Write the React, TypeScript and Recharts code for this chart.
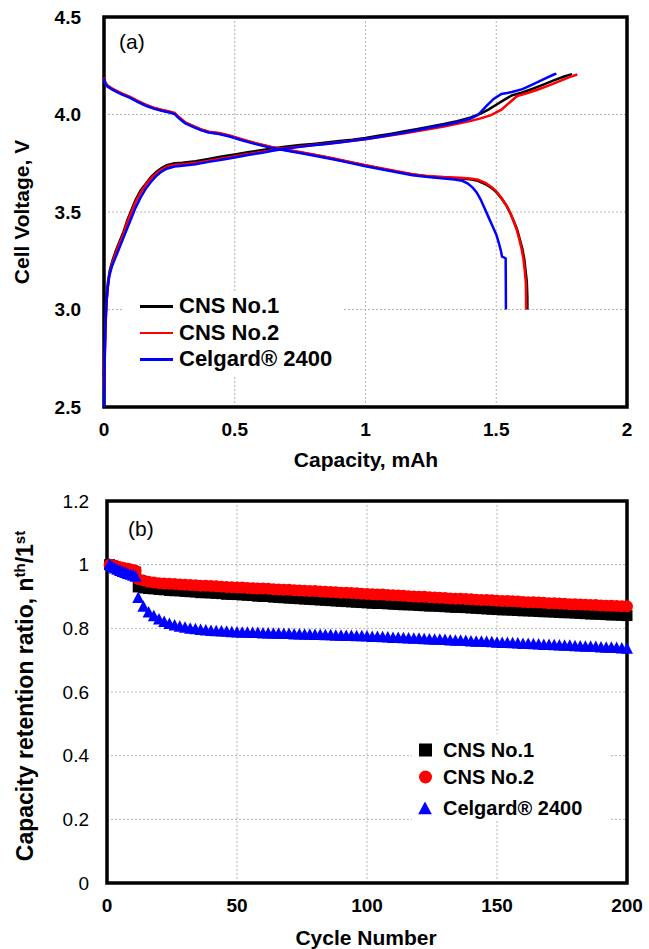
import React from 'react';
import { LineChart, Line, ScatterChart, Scatter, XAxis, YAxis, CartesianGrid, ReferenceArea } from 'recharts';

const FONT = '"Liberation Sans", Arial, Helvetica, sans-serif';

// panel (a) axes
const capacityTicks = [0, 0.5, 1, 1.5, 2];
const voltageTicks = [2.5, 3.0, 3.5, 4.0, 4.5];

// panel (b) axes
const cycleTicks = [0, 50, 100, 150, 200];
const ratioTicks = [0, 0.2, 0.4, 0.6, 0.8, 1, 1.2];

// charge curves [capacity mAh, voltage V]
const cns1Charge = [
  [0, 2.66], [0.003, 2.8], [0.006, 2.95], [0.01, 3.06], [0.015, 3.14], [0.022, 3.2], [0.032, 3.25], [0.045, 3.3],
  [0.06, 3.35], [0.075, 3.4], [0.09, 3.46], [0.105, 3.51], [0.12, 3.56], [0.14, 3.61], [0.16, 3.645], [0.18, 3.68],
  [0.2, 3.705], [0.22, 3.725], [0.24, 3.74], [0.27, 3.75], [0.3, 3.753], [0.35, 3.76], [0.4, 3.772], [0.45, 3.785],
  [0.5, 3.795], [0.55, 3.806], [0.6, 3.817], [0.65, 3.827], [0.7, 3.836], [0.75, 3.843], [0.8, 3.849], [0.85, 3.856],
  [0.9, 3.864], [0.95, 3.871], [1.0, 3.88], [1.05, 3.891], [1.1, 3.902], [1.15, 3.914], [1.2, 3.926], [1.25, 3.938],
  [1.3, 3.951], [1.35, 3.966], [1.4, 3.984], [1.44, 4.004], [1.47, 4.025], [1.5, 4.05], [1.53, 4.075], [1.56, 4.098],
  [1.6, 4.113], [1.64, 4.132], [1.68, 4.153], [1.72, 4.175], [1.76, 4.195], [1.79, 4.207],
];
const cns2Charge = [
  [0, 2.6], [0.003, 2.75], [0.006, 2.92], [0.01, 3.04], [0.015, 3.12], [0.022, 3.19], [0.032, 3.24], [0.045, 3.29],
  [0.06, 3.34], [0.075, 3.39], [0.09, 3.45], [0.105, 3.5], [0.12, 3.55], [0.14, 3.6], [0.16, 3.64], [0.18, 3.672],
  [0.2, 3.698], [0.22, 3.718], [0.24, 3.732], [0.27, 3.742], [0.3, 3.745], [0.35, 3.752], [0.4, 3.763], [0.45, 3.775],
  [0.5, 3.786], [0.55, 3.797], [0.6, 3.808], [0.65, 3.818], [0.7, 3.828], [0.75, 3.836], [0.8, 3.843], [0.85, 3.85],
  [0.9, 3.858], [0.95, 3.865], [1.0, 3.873], [1.05, 3.883], [1.1, 3.893], [1.15, 3.904], [1.2, 3.915], [1.25, 3.927],
  [1.3, 3.939], [1.35, 3.952], [1.4, 3.966], [1.44, 3.98], [1.48, 3.997], [1.52, 4.025], [1.55, 4.06], [1.58, 4.095],
  [1.62, 4.11], [1.66, 4.128], [1.7, 4.148], [1.74, 4.17], [1.78, 4.192], [1.81, 4.205],
];
const celgardCharge = [
  [0, 2.5], [0.002, 2.7], [0.005, 2.9], [0.009, 3.03], [0.014, 3.11], [0.02, 3.17], [0.03, 3.22], [0.045, 3.27],
  [0.06, 3.32], [0.075, 3.37], [0.09, 3.42], [0.105, 3.47], [0.12, 3.52], [0.14, 3.575], [0.16, 3.62], [0.18, 3.655],
  [0.2, 3.685], [0.22, 3.707], [0.24, 3.722], [0.27, 3.733], [0.3, 3.737], [0.35, 3.745], [0.4, 3.757], [0.45, 3.768],
  [0.5, 3.78], [0.55, 3.792], [0.6, 3.803], [0.65, 3.815], [0.7, 3.826], [0.75, 3.834], [0.8, 3.842], [0.85, 3.849],
  [0.9, 3.857], [0.95, 3.865], [1.0, 3.874], [1.05, 3.885], [1.1, 3.896], [1.15, 3.908], [1.2, 3.92], [1.25, 3.933],
  [1.3, 3.946], [1.35, 3.96], [1.4, 3.978], [1.43, 3.997], [1.46, 4.04], [1.49, 4.08], [1.52, 4.105], [1.56, 4.115],
  [1.6, 4.13], [1.64, 4.155], [1.68, 4.18], [1.72, 4.205], [1.73, 4.21],
];

// discharge curves
const cns1Discharge = [
  [0, 4.19], [0.004, 4.165], [0.012, 4.148], [0.03, 4.132], [0.05, 4.118], [0.07, 4.105], [0.1, 4.088], [0.13, 4.067],
  [0.16, 4.048], [0.19, 4.033], [0.22, 4.022], [0.25, 4.013], [0.27, 4.005], [0.29, 3.98], [0.31, 3.958], [0.34, 3.94],
  [0.37, 3.922], [0.4, 3.91], [0.44, 3.903], [0.48, 3.89], [0.53, 3.87], [0.58, 3.851], [0.64, 3.832], [0.7, 3.817],
  [0.76, 3.803], [0.82, 3.788], [0.88, 3.772], [0.94, 3.755], [1.0, 3.738], [1.06, 3.722], [1.12, 3.707], [1.18, 3.692],
  [1.24, 3.682], [1.3, 3.676], [1.36, 3.672], [1.4, 3.668], [1.43, 3.66], [1.46, 3.642], [1.48, 3.625], [1.5, 3.603],
  [1.52, 3.57], [1.54, 3.53], [1.555, 3.49], [1.568, 3.45], [1.58, 3.41], [1.59, 3.36], [1.6, 3.31], [1.607, 3.26],
  [1.612, 3.2], [1.617, 3.14], [1.619, 3.06], [1.619, 3.0],
];
const cns2Discharge = [
  [0, 4.19], [0.004, 4.168], [0.012, 4.15], [0.03, 4.134], [0.05, 4.12], [0.07, 4.107], [0.1, 4.09], [0.13, 4.069],
  [0.16, 4.05], [0.19, 4.035], [0.22, 4.024], [0.25, 4.015], [0.27, 4.008], [0.29, 3.983], [0.31, 3.96], [0.34, 3.942],
  [0.37, 3.925], [0.4, 3.912], [0.44, 3.905], [0.48, 3.892], [0.53, 3.872], [0.58, 3.853], [0.64, 3.834], [0.7, 3.819],
  [0.76, 3.805], [0.82, 3.79], [0.88, 3.774], [0.94, 3.757], [1.0, 3.74], [1.06, 3.724], [1.12, 3.709], [1.18, 3.694],
  [1.24, 3.684], [1.3, 3.679], [1.36, 3.676], [1.4, 3.672], [1.43, 3.665], [1.46, 3.648], [1.48, 3.63], [1.5, 3.606],
  [1.52, 3.572], [1.54, 3.532], [1.555, 3.492], [1.567, 3.45], [1.578, 3.41], [1.588, 3.36], [1.597, 3.31], [1.604, 3.26],
  [1.609, 3.2], [1.613, 3.14], [1.614, 3.06], [1.614, 3.0],
];
const celgardDischarge = [
  [0, 4.185], [0.004, 4.16], [0.012, 4.145], [0.03, 4.129], [0.05, 4.115], [0.07, 4.102], [0.1, 4.085], [0.13, 4.064],
  [0.16, 4.045], [0.19, 4.03], [0.22, 4.019], [0.25, 4.01], [0.27, 4.002], [0.29, 3.977], [0.31, 3.955], [0.34, 3.937],
  [0.37, 3.92], [0.4, 3.908], [0.44, 3.9], [0.48, 3.887], [0.53, 3.867], [0.58, 3.848], [0.64, 3.829], [0.7, 3.814],
  [0.76, 3.8], [0.82, 3.785], [0.88, 3.769], [0.94, 3.752], [1.0, 3.735], [1.06, 3.719], [1.12, 3.704], [1.18, 3.689],
  [1.24, 3.679], [1.3, 3.672], [1.34, 3.667], [1.37, 3.66], [1.39, 3.647], [1.41, 3.625], [1.425, 3.6], [1.44, 3.565],
  [1.455, 3.52], [1.47, 3.475], [1.485, 3.43], [1.5, 3.385], [1.51, 3.34], [1.518, 3.3], [1.522, 3.272], [1.536, 3.262],
  [1.537, 3.0],
];

// panel (b): cycle numbers and retention ratio n-th / 1st
const cycles = [
  1, 2, 3, 4, 5, 6, 7, 8, 9, 10, 11, 12,
  14, 16, 18, 20, 22, 24, 26, 28, 30, 32, 34, 36, 38, 40, 42, 44, 46, 48, 50,
  52, 54, 56, 58, 60, 62, 64, 66, 68, 70, 72, 74, 76, 78, 80, 82, 84, 86, 88, 90, 92, 94, 96, 98, 100,
  102, 104, 106, 108, 110, 112, 114, 116, 118, 120, 122, 124, 126, 128, 130, 132, 134, 136, 138, 140, 142, 144, 146, 148, 150,
  152, 154, 156, 158, 160, 162, 164, 166, 168, 170, 172, 174, 176, 178, 180, 182, 184, 186, 188, 190, 192, 194, 196, 198, 200,
];
const cns1Retention = [
  1.0, 0.997, 0.993, 0.99, 0.988, 0.986, 0.984, 0.982, 0.98, 0.978, 0.976, 0.93,
  0.927, 0.925, 0.924, 0.922, 0.921, 0.919, 0.918, 0.918, 0.916, 0.915, 0.914, 0.912, 0.912, 0.911, 0.91, 0.909, 0.907, 0.907, 0.906,
  0.905, 0.904, 0.903, 0.901, 0.9, 0.9, 0.898, 0.897, 0.896, 0.895, 0.894, 0.893, 0.892, 0.891, 0.89, 0.889, 0.888, 0.887, 0.886, 0.885, 0.884, 0.883, 0.882, 0.881, 0.88,
  0.879, 0.878, 0.878, 0.877, 0.876, 0.875, 0.874, 0.874, 0.873, 0.872, 0.871, 0.87, 0.87, 0.869, 0.868, 0.867, 0.866, 0.866, 0.865, 0.864, 0.863, 0.862, 0.861, 0.86, 0.859,
  0.858, 0.858, 0.857, 0.856, 0.855, 0.855, 0.854, 0.853, 0.852, 0.852, 0.851, 0.85, 0.849, 0.849, 0.848, 0.847, 0.846, 0.845, 0.845, 0.844, 0.843, 0.842, 0.842, 0.841, 0.84,
];
const cns2Retention = [
  1.0, 0.998, 0.996, 0.994, 0.992, 0.99, 0.988, 0.987, 0.985, 0.983, 0.981, 0.955,
  0.95, 0.946, 0.944, 0.942, 0.941, 0.94, 0.939, 0.938, 0.937, 0.936, 0.935, 0.934, 0.934, 0.933, 0.932, 0.931, 0.93, 0.929, 0.928,
  0.928, 0.927, 0.926, 0.925, 0.925, 0.924, 0.923, 0.922, 0.921, 0.921, 0.92, 0.919, 0.918, 0.917, 0.917, 0.916, 0.915, 0.914, 0.913, 0.912, 0.912, 0.911, 0.91, 0.909, 0.908,
  0.907, 0.906, 0.906, 0.905, 0.904, 0.903, 0.902, 0.901, 0.9, 0.899, 0.899, 0.898, 0.897, 0.896, 0.895, 0.894, 0.893, 0.893, 0.892, 0.891, 0.89, 0.889, 0.889, 0.888, 0.887,
  0.886, 0.886, 0.885, 0.884, 0.883, 0.882, 0.882, 0.881, 0.88, 0.879, 0.879, 0.878, 0.877, 0.876, 0.876, 0.875, 0.874, 0.873, 0.873, 0.872, 0.871, 0.871, 0.87, 0.869, 0.869,
];
const celgardRetention = [
  1.0, 0.993, 0.988, 0.984, 0.98, 0.977, 0.974, 0.971, 0.968, 0.965, 0.962, 0.895,
  0.868, 0.85, 0.838, 0.828, 0.82, 0.814, 0.809, 0.805, 0.802, 0.799, 0.797, 0.795, 0.793, 0.792, 0.791, 0.79, 0.789, 0.788, 0.787,
  0.786, 0.786, 0.785, 0.785, 0.784, 0.784, 0.783, 0.783, 0.782, 0.782, 0.781, 0.781, 0.78, 0.78, 0.779, 0.779, 0.778, 0.778, 0.777, 0.777, 0.776, 0.776, 0.775, 0.775, 0.774,
  0.773, 0.773, 0.772, 0.771, 0.77, 0.77, 0.769, 0.768, 0.767, 0.767, 0.766, 0.765, 0.764, 0.764, 0.763, 0.762, 0.761, 0.761, 0.76, 0.759, 0.758, 0.758, 0.757, 0.756, 0.755,
  0.754, 0.754, 0.753, 0.752, 0.751, 0.751, 0.75, 0.749, 0.748, 0.748, 0.747, 0.746, 0.745, 0.745, 0.744, 0.743, 0.742, 0.742, 0.741, 0.74, 0.739, 0.739, 0.738, 0.737, 0.736,
];

const toPoints = (pairs: number[][]) => pairs.map(([x, y]) => ({ x, y }));
const toCyclePoints = (vals: number[]) => cycles.map((c, i) => ({ x: c, y: vals[i] }));

const tickStyle = { fontSize: 19, fontWeight: 'bold', fill: '#000', fontFamily: FONT };
const gridStroke = '#b5b5b5';

const Square = (props: any) => <rect x={props.cx - 5.5} y={props.cy - 5.5} width={11} height={11} fill="#000" />;
const Dot = (props: any) => <circle cx={props.cx} cy={props.cy} r={6} fill="#ff0000" />;
const Tri = (props: any) => (
  <polygon points={`${props.cx},${props.cy - 6.5} ${props.cx - 6},${props.cy + 5} ${props.cx + 6},${props.cy + 5}`} fill="#0000ff" />
);

const lineSeries = [
  { name: 'CNS No.1', color: '#000000' },
  { name: 'CNS No.2', color: '#ff0000' },
  { name: 'Celgard® 2400', color: '#0000ff' },
];

const abs = (s: React.CSSProperties): React.CSSProperties => ({ position: 'absolute', fontFamily: FONT, color: '#000', ...s });

export default function App() {
  return (
    <div style={{ position: 'relative', width: 649, height: 949, background: '#fff', fontFamily: FONT }}>
      <style>{'body{margin:0;background:#fff}'}</style>

      <div style={{ position: 'absolute', left: 0, top: 0 }}>
        <LineChart width={649} height={480} margin={{ top: 17, right: 22, bottom: 33, left: 44 }}>
          <CartesianGrid stroke={gridStroke} strokeDasharray="2 2" />
          <XAxis
            type="number"
            dataKey="x"
            domain={[0, 2]}
            ticks={capacityTicks}
            height={40}
            axisLine={false}
            tickLine={false}
            tickSize={0}
            tickMargin={16}
            tick={tickStyle}
          />
          <YAxis
            type="number"
            dataKey="y"
            domain={[2.5, 4.5]}
            ticks={voltageTicks}
            width={60}
            axisLine={false}
            tickLine={false}
            tickSize={0}
            tickMargin={23}
            tick={tickStyle}
            tickFormatter={(v: number) => v.toFixed(1)}
          />
          <Line data={toPoints(cns1Charge)} dataKey="y" stroke="#000" strokeWidth={2.5} dot={false} isAnimationActive={false} />
          <Line data={toPoints(cns1Discharge)} dataKey="y" stroke="#000" strokeWidth={2.5} dot={false} isAnimationActive={false} />
          <Line data={toPoints(cns2Charge)} dataKey="y" stroke="#ff0000" strokeWidth={2.5} dot={false} isAnimationActive={false} />
          <Line data={toPoints(cns2Discharge)} dataKey="y" stroke="#ff0000" strokeWidth={2.5} dot={false} isAnimationActive={false} />
          <Line data={toPoints(celgardCharge)} dataKey="y" stroke="#0000ff" strokeWidth={2.5} dot={false} isAnimationActive={false} />
          <Line data={toPoints(celgardDischarge)} dataKey="y" stroke="#0000ff" strokeWidth={2.5} dot={false} isAnimationActive={false} />
          <ReferenceArea x1={0} x2={2} y1={2.5} y2={4.5} fill="none" stroke="#000" strokeWidth={3.5} />
        </LineChart>
      </div>

      <div style={{ position: 'absolute', left: 0, top: 480 }}>
        <ScatterChart width={649} height={469} margin={{ top: 21, right: 22, bottom: 26, left: 47 }}>
          <CartesianGrid stroke={gridStroke} strokeDasharray="2 2" />
          <XAxis
            type="number"
            dataKey="x"
            domain={[0, 200]}
            ticks={cycleTicks}
            height={40}
            axisLine={false}
            tickLine={false}
            tickSize={0}
            tickMargin={16}
            tick={tickStyle}
          />
          <YAxis
            type="number"
            dataKey="y"
            domain={[0, 1.2]}
            ticks={ratioTicks}
            width={60}
            axisLine={false}
            tickLine={false}
            tickSize={0}
            tickMargin={18}
            tick={{ ...tickStyle, fontWeight: 'normal' }}
          />
          <Scatter data={toCyclePoints(cns1Retention)} shape={Square} isAnimationActive={false} />
          <Scatter data={toCyclePoints(cns2Retention)} shape={Dot} isAnimationActive={false} />
          <Scatter data={toCyclePoints(celgardRetention)} shape={Tri} isAnimationActive={false} />
          <ReferenceArea x1={0} x2={200} y1={0} y2={1.2} fill="none" stroke="#000" strokeWidth={3.5} />
        </ScatterChart>
      </div>

      {/* axis titles */}
      <div style={abs({ left: 366, top: 460, transform: 'translate(-50%,-50%)', fontSize: 21, fontWeight: 'bold', whiteSpace: 'nowrap' })}>
        Capacity, mAh
      </div>
      <div style={abs({ left: 366, top: 938, transform: 'translate(-50%,-50%)', fontSize: 21, fontWeight: 'bold', whiteSpace: 'nowrap' })}>
        Cycle Number
      </div>
      <div style={abs({ left: 22, top: 212, transform: 'translate(-50%,-50%) rotate(-90deg)', fontSize: 21, fontWeight: 'bold', whiteSpace: 'nowrap' })}>
        Cell Voltage, V
      </div>
      <div style={abs({ left: 25, top: 696, transform: 'translate(-50%,-50%) rotate(-90deg)', fontSize: 23, fontWeight: 'bold', whiteSpace: 'nowrap' })}>
        Capacity retention ratio, n<sup style={{ fontSize: 15 }}>th</sup>/1<sup style={{ fontSize: 15 }}>st</sup>
      </div>

      {/* panel labels */}
      <div style={abs({ left: 119, top: 30, fontSize: 21 })}>(a)</div>
      <div style={abs({ left: 128, top: 517, fontSize: 21 })}>(b)</div>

      {/* legend (a) */}
      <div style={abs({ left: 124, top: 293, width: 220, background: '#fff', padding: '0 0 2px 0' })}>
        {lineSeries.map((s) => (
          <div key={s.name} style={{ display: 'flex', alignItems: 'center', height: 26.5 }}>
            <div style={{ width: 33, height: 2.5, background: s.color, marginLeft: 16, marginRight: 6 }} />
            <span style={{ fontSize: 22, fontWeight: 'bold' }}>{s.name}</span>
          </div>
        ))}
      </div>

      {/* legend (b) */}
      <div style={abs({ left: 412, top: 734, width: 198, height: 86, background: '#fff' })}>
        {[
          { name: 'CNS No.1', top: 16, marker: <div style={{ width: 13, height: 13, background: '#000' }} /> },
          { name: 'CNS No.2', top: 43, marker: <div style={{ width: 13, height: 13, borderRadius: '50%', background: '#ff0000' }} /> },
          {
            name: 'Celgard® 2400',
            top: 74,
            marker: (
              <svg width={14} height={13}>
                <polygon points="7,0 0,13 14,13" fill="#0000ff" />
              </svg>
            ),
          },
        ].map((r) => (
          <div key={r.name} style={{ position: 'absolute', left: 6, top: r.top, transform: 'translateY(-50%)', display: 'flex', alignItems: 'center' }}>
            <div style={{ width: 14, display: 'flex', justifyContent: 'center' }}>{r.marker}</div>
            <span style={{ marginLeft: 11, fontSize: 20, fontWeight: 'bold' }}>{r.name}</span>
          </div>
        ))}
      </div>
    </div>
  );
}
